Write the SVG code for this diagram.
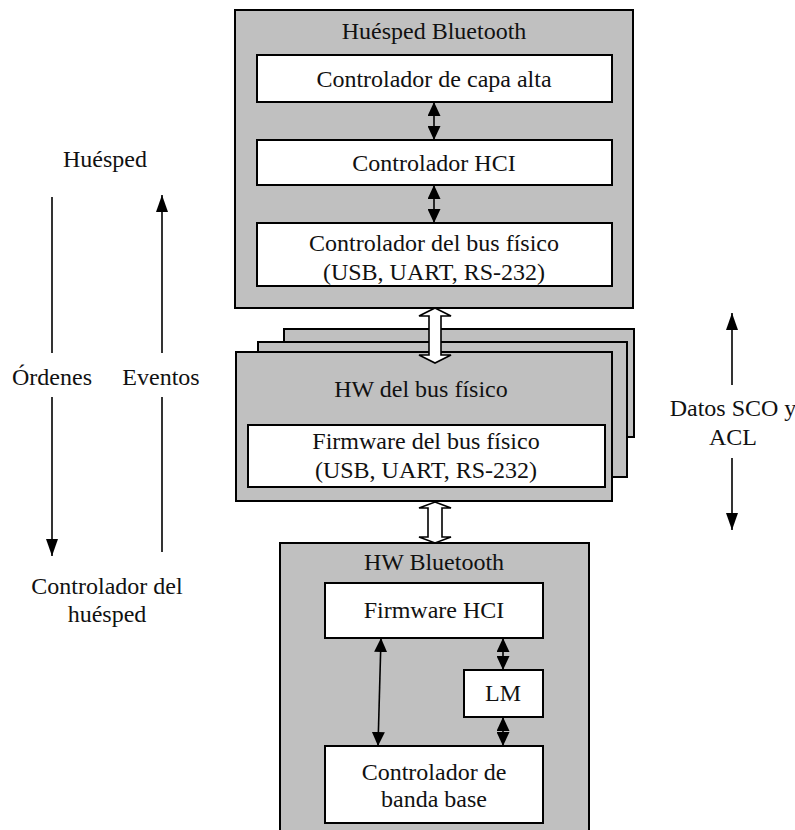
<svg xmlns="http://www.w3.org/2000/svg" width="795" height="830" viewBox="0 0 795 830">
  <style>
    .panel { fill: #c0c0c0; stroke: #000; stroke-width: 2; }
    .box { fill: #fff; stroke: #000; stroke-width: 2; }
    .t { font-family: "Liberation Serif", "DejaVu Serif", "Times New Roman", serif; font-size: 24px; fill: #111; text-anchor: middle; }
    .link { stroke: #000; stroke-width: 1.6; fill: none; }
    .hollow { fill: #fff; stroke: #000; stroke-width: 1.6; stroke-linejoin: miter; }
  </style>
  <defs>
    <marker id="head" viewBox="0 0 14 13" refX="14" refY="6.5" markerWidth="14" markerHeight="13" markerUnits="userSpaceOnUse" orient="auto-start-reverse">
      <path d="M0,0 L14,6.5 L0,13 z" fill="#000"/>
    </marker>
    <marker id="headL" viewBox="0 0 17 12" refX="17" refY="6" markerWidth="17" markerHeight="12" markerUnits="userSpaceOnUse" orient="auto-start-reverse">
      <path d="M0,0 L17,6 L0,12 z" fill="#000"/>
    </marker>
  </defs>

  <!-- Host side -->
  <g id="host">
    <rect class="panel" x="235" y="10" width="398" height="298"/>
    <text class="t" x="434" y="39">Huésped Bluetooth</text>
  </g>
  <g id="upper-driver">
    <rect class="box" x="257" y="55" width="355" height="47"/>
    <text class="t" x="434" y="87">Controlador de capa alta</text>
  </g>
  <g id="hci-driver">
    <rect class="box" x="257" y="140" width="355" height="45"/>
    <text class="t" x="434" y="171">Controlador HCI</text>
  </g>
  <g id="bus-driver">
    <rect class="box" x="257" y="223" width="355" height="63"/>
    <text class="t" x="434" y="251">Controlador del bus físico</text>
    <text class="t" x="434" y="280">(USB, UART, RS-232)</text>
  </g>

  <!-- Physical bus hardware (stacked) -->
  <g id="bus-hw">
    <rect class="panel" x="284" y="329" width="350" height="108"/>
    <rect class="panel" x="258" y="342" width="369" height="135"/>
    <rect class="panel" x="236" y="352" width="376" height="149"/>
    <text class="t" x="421" y="397">HW del bus físico</text>
  </g>
  <g id="bus-firmware">
    <rect class="box" x="248" y="425" width="357" height="62"/>
    <text class="t" x="426" y="449">Firmware del bus físico</text>
    <text class="t" x="426" y="478">(USB, UART, RS-232)</text>
  </g>

  <!-- Bluetooth hardware -->
  <g id="bt-hw">
    <rect class="panel" x="280" y="543" width="309" height="300"/>
    <text class="t" x="434" y="570">HW Bluetooth</text>
  </g>
  <g id="hci-firmware">
    <rect class="box" x="325" y="583" width="218" height="55"/>
    <text class="t" x="434" y="618">Firmware HCI</text>
  </g>
  <g id="lm">
    <rect class="box" x="464" y="670" width="79" height="47"/>
    <text class="t" x="503" y="701">LM</text>
  </g>
  <g id="baseband">
    <rect class="box" x="325" y="746" width="218" height="77"/>
    <text class="t" x="434" y="780">Controlador de</text>
    <text class="t" x="434" y="807">banda base</text>
  </g>

  <!-- Side labels -->
  <g id="side-labels">
    <text class="t" x="105" y="167">Huésped</text>
    <text class="t" x="52" y="385">Órdenes</text>
    <text class="t" x="161" y="385">Eventos</text>
    <text class="t" x="107" y="594">Controlador del</text>
    <text class="t" x="107" y="622">huésped</text>
    <text class="t" x="733" y="416">Datos SCO y</text>
    <text class="t" x="733" y="445">ACL</text>
  </g>

  <!-- Connectors -->
  <g id="connectors">
    <line class="link" x1="434" y1="102" x2="434" y2="140" marker-start="url(#head)" marker-end="url(#head)"/>
    <line class="link" x1="434" y1="185" x2="434" y2="223" marker-start="url(#head)" marker-end="url(#head)"/>
    <line class="link" x1="381" y1="638" x2="378" y2="746" marker-start="url(#head)" marker-end="url(#head)"/>
    <line class="link" x1="503" y1="638" x2="503" y2="670" marker-start="url(#head)" marker-end="url(#head)"/>
    <line class="link" x1="503" y1="717" x2="503" y2="746" marker-start="url(#head)" marker-end="url(#head)"/>

    <!-- bus links (hollow double arrows) -->
    <path class="hollow" d="M435,308 L451,316 L441,316 L441,355 L451,355 L435,363 L419,355 L429,355 L429,316 L419,316 Z"/>
    <path class="hollow" d="M435,502 L451,508 L442,508 L442,537 L451,537 L435,543 L419,537 L428,537 L428,508 L419,508 Z"/>

    <!-- commands / events / data flows -->
    <line class="link" x1="52" y1="197" x2="52" y2="353"/>
    <line class="link" x1="52" y1="397" x2="52" y2="556" marker-end="url(#headL)"/>
    <line class="link" x1="162" y1="353" x2="162" y2="195" marker-end="url(#headL)"/>
    <line class="link" x1="162" y1="397" x2="162" y2="552"/>
    <line class="link" x1="732" y1="385" x2="732" y2="313" marker-end="url(#headL)"/>
    <line class="link" x1="732" y1="458" x2="732" y2="530" marker-end="url(#headL)"/>
  </g>
</svg>
